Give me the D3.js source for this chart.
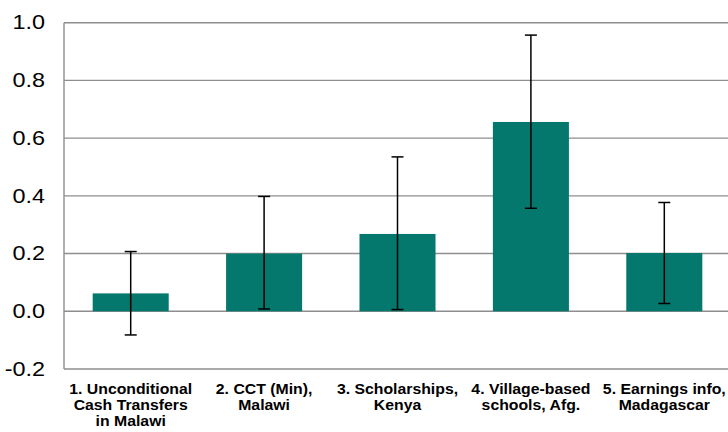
<!DOCTYPE html>
<html><head><meta charset="utf-8">
<script src="https://cdn.jsdelivr.net/npm/d3@7"></script>
<style>body{margin:0;background:#fff}svg{display:block}text{font-family:"Liberation Sans",Arial,sans-serif}</style>
</head><body>
<svg id="c" width="728" height="432"></svg>
<script>
const categories = [
  ["1. Unconditional","Cash Transfers","in Malawi"],
  ["2. CCT (Min),","Malawi"],
  ["3. Scholarships,","Kenya"],
  ["4. Village-based","schools, Afg."],
  ["5. Earnings info,","Madagascar"]
];
const values = [0.062, 0.200, 0.268, 0.656, 0.202];
const errLow = [-0.082, 0.008, 0.006, 0.357, 0.027];
const errHigh = [0.207, 0.398, 0.535, 0.957, 0.377];
const yTicks = [-0.2, 0, 0.2, 0.4, 0.6, 0.8, 1.0];

(function(){
const svg = d3.select("#c");
const mLeft = 64, mRight = 731, mTop = 22.7, mBottom = 369;
const x = d3.scaleBand().domain(d3.range(categories.length)).range([mLeft, mRight]).paddingInner(0.43).paddingOuter(0.215);
const y = d3.scaleLinear().domain([-0.2, 1.0]).range([mBottom, mTop]);

// gridlines
svg.append("g").selectAll("line").data(yTicks).join("line")
  .attr("x1", mLeft).attr("x2", 728)
  .attr("y1", d => y(d)).attr("y2", d => y(d))
  .attr("stroke", "#8e8e8e").attr("stroke-width", 1.4);
// left axis line
svg.append("line").attr("x1", mLeft).attr("x2", mLeft).attr("y1", y(1.0)).attr("y2", y(-0.2))
  .attr("stroke", "#8e8e8e").attr("stroke-width", 1.4);

// y labels
const yAxis = d3.axisLeft(y).tickValues(yTicks).tickFormat(d => d.toFixed(1)).tickSize(0).tickPadding(0);
const ga = svg.append("g").attr("transform", `translate(${mLeft},0)`).call(yAxis);
ga.select(".domain").remove();
ga.selectAll("text").attr("font-size", 19.5).attr("fill", "#000")
  .attr("font-family", '"Liberation Sans",Arial,sans-serif')
  .attr("x", null)
  .attr("transform", "translate(-19,0) scale(1.2,1)");

// bars
svg.append("g").selectAll("rect").data(values).join("rect")
  .attr("x", (d,i) => x(i)).attr("width", x.bandwidth())
  .attr("y", d => y(Math.max(0,d))).attr("height", d => Math.abs(y(d) - y(0)))
  .attr("fill", "#04786c");

// error bars
const eg = svg.append("g").attr("stroke", "#000").attr("stroke-width", 1.5);
values.forEach((v,i) => {
  const cx = x(i) + x.bandwidth()/2;
  eg.append("line").attr("x1", cx).attr("x2", cx).attr("y1", y(errLow[i])).attr("y2", y(errHigh[i]));
  eg.append("line").attr("x1", cx-6).attr("x2", cx+6).attr("y1", y(errLow[i])).attr("y2", y(errLow[i]));
  eg.append("line").attr("x1", cx-6).attr("x2", cx+6).attr("y1", y(errHigh[i])).attr("y2", y(errHigh[i]));
});

// x labels
categories.forEach((lines,i) => {
  const cx = x(i) + x.bandwidth()/2;
  const t = svg.append("text").attr("text-anchor", "middle").attr("font-weight", "bold")
    .attr("font-size", 14.5).attr("fill", "#000")
    .attr("transform", `translate(${cx},394) scale(1.09,1)`);
  lines.forEach((l,j) => t.append("tspan").attr("x", 0).attr("y", j*15.8).text(l));
});
})();
</script>
</body></html>
